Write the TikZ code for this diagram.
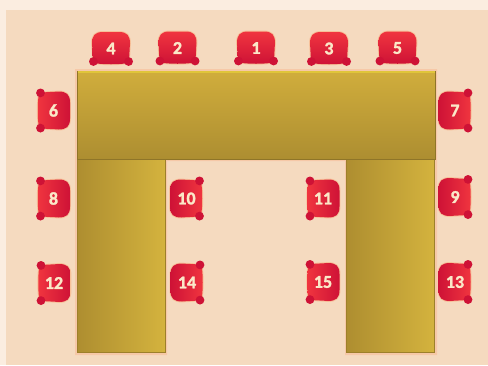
\documentclass[tikz,border=0pt]{standalone}
\usepackage{fontspec}
\setmainfont[BoldFeatures={FakeBold=1.6}]{Carlito}
\definecolor{pageout}{HTML}{FBEDE0}
\definecolor{pagein}{HTML}{F5DABF}
\definecolor{seatlight}{HTML}{F0353F}
\definecolor{seatdark}{HTML}{CE1236}
\definecolor{goldlight}{HTML}{D4B33E}
\definecolor{golddark}{HTML}{AE8E30}
\definecolor{goldhigh}{HTML}{D0AD3C}
\definecolor{goldmid}{HTML}{C9A538}
\definecolor{goldlow}{HTML}{AD8E31}
\definecolor{goldedge}{HTML}{8F7528}
\definecolor{goldtop}{HTML}{E0C53A}
\definecolor{numcol}{HTML}{FBE8C8}
\tikzset{
  x=1pt,y=-1pt,
  feetdown/.style={top color=seatlight,bottom color=seatdark},
  feetright/.style={left color=seatlight,right color=seatdark},
  feetleft/.style={left color=seatdark,right color=seatlight},
  seatglow/.style={draw=orange!70!red,line width=1.8pt,opacity=.2},
  seatnum/.style={text=numcol,font=\bfseries\fontsize{18}{18}\selectfont,inner sep=0pt},
  tabletop/.style={top color=goldhigh,middle color=goldmid,bottom color=goldlow,draw=goldedge,line width=.8pt},
  tableleg/.style={left color=golddark,right color=goldlight,draw=golddark!90!black,line width=1pt},
}
\newcommand{\seatpath}{
  (-19,-5) .. controls (-19,-13) and (-16,-16.5) .. (-8,-16.5)
  -- (8,-16.5) .. controls (16,-16.5) and (19,-13) .. (19,-5)
  .. controls (18.5,1) and (18.5,6) .. (18,11)
  -- (14,15) .. controls (6,16) and (-6,16) .. (-14,15)
  -- (-18,11) .. controls (-18.5,6) and (-18.5,1) .. (-19,-5) -- cycle
}
% \seat{name}{x}{y}{rotation}{shading style}{number}; feet point down at rotation 0
\newcommand{\seat}[6]{
  \begin{scope}[shift={(#2,#3)},rotate=#4]
    \path[seatglow] \seatpath;
    \path[#5] \seatpath;
    \fill[seatdark] (-17.6,13) circle[radius=4.4] (17.6,13) circle[radius=4.4];
  \end{scope}
  \node[seatnum] (#1) at (#2,#3) {#6};
}
\begin{document}
\begin{tikzpicture}
\useasboundingbox (0,0) rectangle (488,365);
\fill[pageout] (0,0) rectangle (488,365);
\fill[pagein] (6,10) rectangle (488,365);
\fill[orange!60!red,opacity=.12] (75,69) rectangle (437,161) (75,161) rectangle (167,355) (345,161) rectangle (437,355);
\path[tableleg] (77.5,159) rectangle (165,352.5);
\path[tableleg] (346.5,159) rectangle (434.5,352.5);
\path[tabletop] (77,71.5) rectangle (435,159);
\draw[goldtop,line width=1.6pt] (77.5,72) -- (434.5,72);
\seat{s4}{111}{48.5}{0}{feetdown}{4}
\seat{s2}{177.5}{48}{0}{feetdown}{2}
\seat{s1}{256}{48}{0}{feetdown}{1}
\seat{s3}{329}{48.5}{0}{feetdown}{3}
\seat{s5}{397.5}{48}{0}{feetdown}{5}
\seat{s6}{53.5}{110.5}{-90}{feetright}{6}
\seat{s8}{53.5}{198.5}{-90}{feetright}{8}
\seat{s12}{54}{283}{-90}{feetright}{12}
\seat{s7}{455}{110.5}{90}{feetleft}{7}
\seat{s9}{455}{197}{90}{feetleft}{9}
\seat{s13}{455}{282}{90}{feetleft}{13}
\seat{s10}{186.5}{198.5}{90}{feetleft}{10}
\seat{s14}{187}{282.5}{90}{feetleft}{14}
\seat{s11}{323}{198.5}{-90}{feetright}{11}
\seat{s15}{323}{282}{-90}{feetright}{15}
\end{tikzpicture}
\end{document}
